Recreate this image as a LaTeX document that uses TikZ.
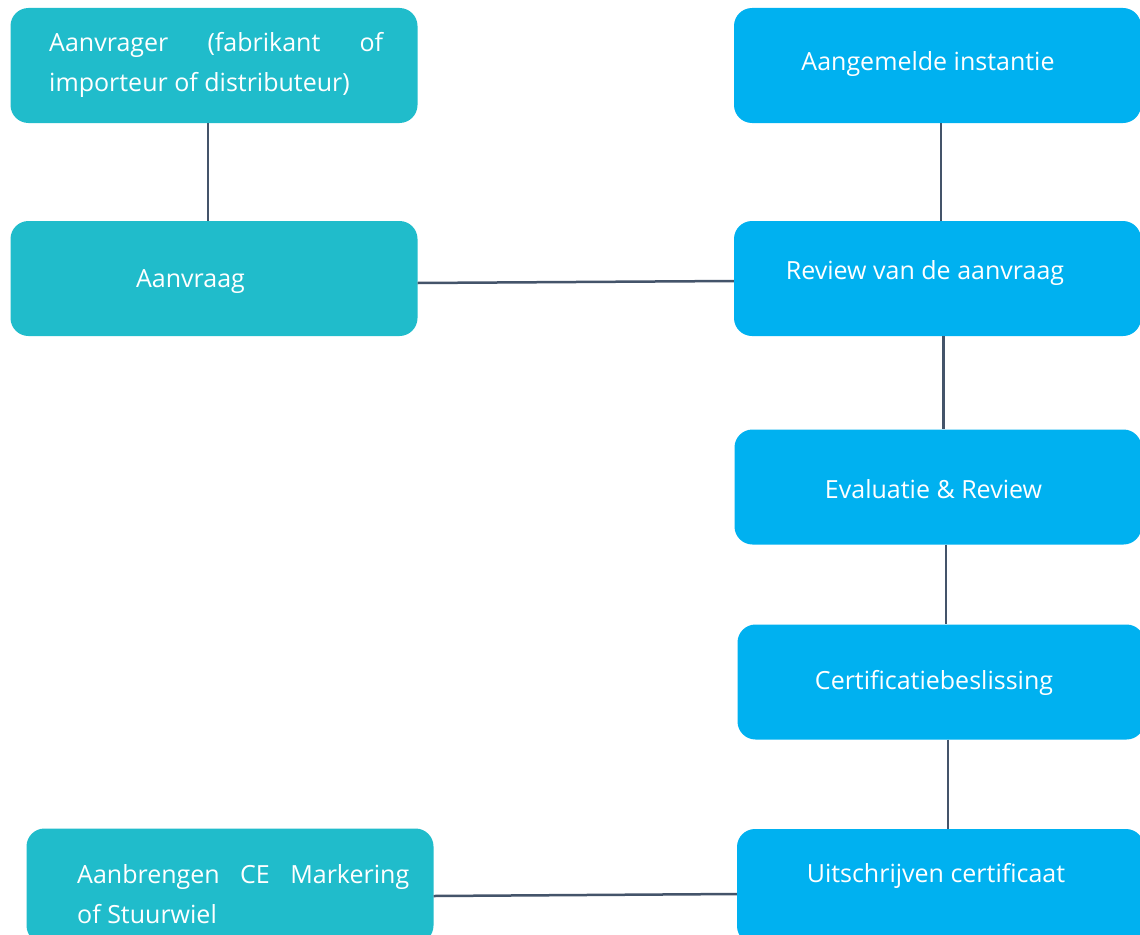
\documentclass[tikz,border=0pt]{standalone}
\usepackage{fontspec}
\setmainfont{Open Sans}
\definecolor{tealbox}{HTML}{20BCCB}
\definecolor{bluebox}{HTML}{00B1F0}
\definecolor{linkcol}{HTML}{44546A}
\begin{document}
\begin{tikzpicture}[x=1pt,y=-1pt,
  box/.style={rectangle,rounded corners=18pt,minimum width=407pt,minimum height=115pt,inner sep=0pt,draw=none},
  tbox/.style={box,fill=tealbox},
  bbox/.style={box,fill=bluebox},
  txt/.style={text=white,font=\fontsize{25}{40}\selectfont,inner sep=0pt},
  link/.style={draw=linkcol,line width=2.5pt}]
\useasboundingbox[fill=white] (0,0) rectangle (1140,934);
% boxes
\node[tbox] (t1) at (214,65.5) {};
\node[tbox] (t2) at (214,278.5) {};
\node[tbox] (t3) at (230,886) {};
\node[bbox] (b1) at (937.5,65.5) {};
\node[bbox] (b2) at (937.5,278.5) {};
\node[bbox] (b3) at (938,487) {};
\node[bbox] (b4) at (941,682) {};
\node[bbox] (b5) at (940.5,886.5) {};
% texts
\node[txt,anchor=base west] (t1txt) at (49,52) {\parbox[t]{334pt}{\fontsize{25}{40}\selectfont Aanvrager (fabrikant of\linebreak importeur of distributeur)}};
\node[txt,anchor=base] (t2txt) at (190.5,287) {Aanvraag};
\node[txt,anchor=base west] (t3txt) at (77,883) {\parbox[t]{332pt}{\fontsize{25}{40}\selectfont Aanbrengen CE Markering\linebreak of Stuurwiel}};
\node[txt,anchor=base] (b1txt) at (928,70.5) {Aangemelde instantie};
\node[txt,anchor=base] (b2txt) at (925,279) {Review van de aanvraag};
\node[txt,anchor=base] (b3txt) at (933.5,498) {Evaluatie \& Review};
\node[txt,anchor=base] (b4txt) at (934,689) {Certificatiebeslissing};
\node[txt,anchor=base] (b5txt) at (936,882) {Uitschrijven certificaat};
% connectors
\draw[link] ([xshift=-6pt]t1.south) -- ([xshift=-6pt]t2.north);
\draw[link] ([yshift=-4.5pt]t2.east) -- ([yshift=-2.5pt]b2.west);
\draw[link] ([xshift=3.5pt]b1.south) -- ([xshift=3.5pt]b1.south |- b2.north);
\draw[link] ([xshift=6pt]b2.south) -- ([xshift=6pt]b2.south |- b3.north);
\draw[link] ([xshift=8pt]b3.south) -- ([xshift=8pt]b3.south |- b4.north);
\draw[link] ([xshift=7pt]b4.south) -- ([xshift=7pt]b4.south |- b5.north);
\draw[link] ([yshift=-10pt]t3.east) -- ([yshift=-7.5pt]b5.west);
\end{tikzpicture}
\end{document}
